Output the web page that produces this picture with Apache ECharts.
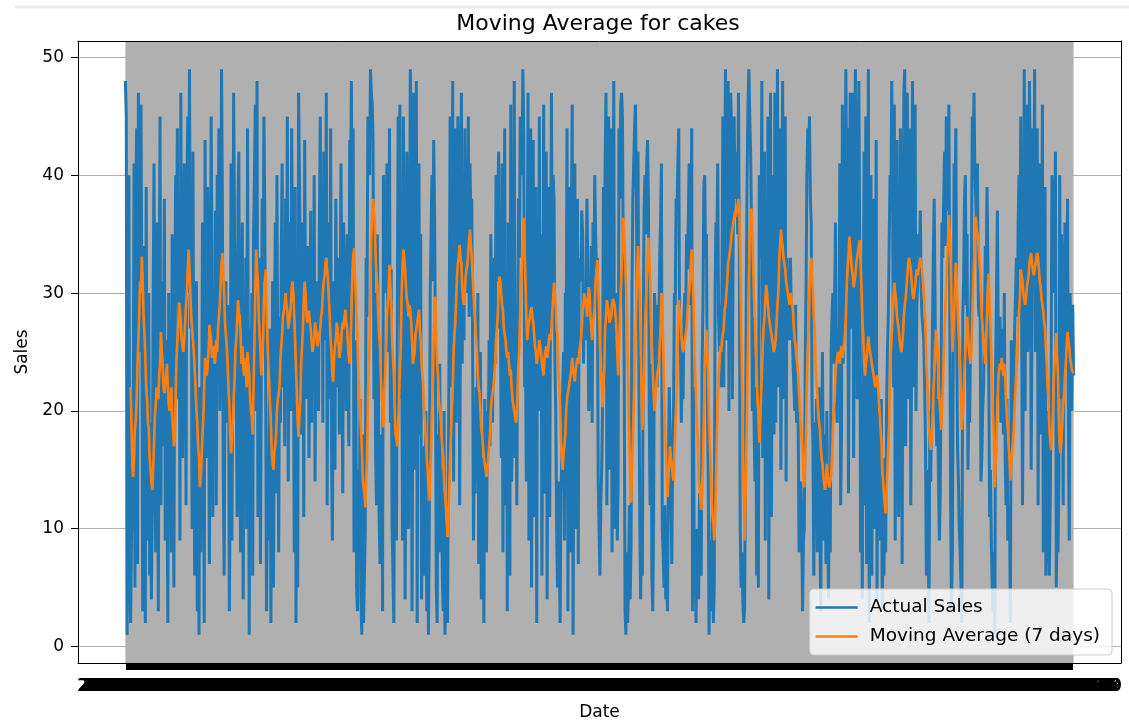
<!DOCTYPE html>
<html>
<head>
<meta charset="utf-8">
<script src="https://cdn.jsdelivr.net/npm/echarts@6/dist/echarts.min.js"></script>
<style>html,body{margin:0;padding:0;background:#fff;}#c{width:1129px;height:720px;}</style>
</head>
<body>
<div id="c"></div>
<script>
// Daily actual sales
const actualSales = [
48,45,1,33,40,6,2,9,12,20,41,5,38,44,7,
47,25,31,46,28,3,13,34,2,39,17,9,30,6,19,
4,11,29,41,16,8,36,22,3,27,45,12,31,17,24,
38,9,26,14,2,30,19,23,8,35,13,5,28,40,32,
44,21,36,9,47,25,16,33,41,29,12,38,45,30,49,
27,35,10,42,19,6,24,31,3,14,1,22,8,17,36,
30,2,43,25,16,39,28,7,21,45,33,11,26,18,37,
12,40,34,44,20,27,49,38,15,6,24,31,19,23,29,
3,13,41,9,26,47,35,30,22,11,38,42,17,8,28,
36,4,25,19,33,10,44,23,1,27,15,30,6,35,40,
46,20,48,11,29,33,7,24,38,31,45,36,22,3,14,
9,18,27,2,16,31,5,24,36,13,40,21,8,28,19,
33,41,22,30,17,38,26,45,14,29,36,20,44,31,25,
8,39,2,28,5,47,40,32,18,26,36,11,43,30,21,
29,34,16,25,37,19,33,22,40,14,27,31,24,20,35,
45,28,38,19,42,33,26,47,12,30,36,21,44,17,9,
24,31,15,38,27,22,33,18,29,41,25,13,36,30,28,
20,35,26,17,43,39,48,30,44,8,12,26,5,3,15,
9,21,4,1,18,2,6,10,33,28,45,44,40,49,47,
46,43,21,30,16,12,35,25,11,7,14,18,3,40,30,
33,36,41,25,28,44,19,32,10,6,2,21,14,9,28,
45,40,46,21,31,9,45,33,4,18,42,34,10,27,49,
44,3,26,47,15,27,48,2,29,41,18,35,4,11,17,
6,13,20,3,9,1,11,30,35,40,31,43,37,26,5,
2,18,12,24,8,15,6,3,20,1,4,10,2,16,28,
45,22,36,48,14,27,44,19,35,45,41,12,28,47,24,
40,26,44,33,37,30,45,28,41,36,38,25,9,18,13,
22,14,30,7,19,25,4,16,13,2,21,11,8,20,18,
26,17,35,28,19,29,33,24,40,31,37,42,27,29,16,
41,8,25,44,12,31,3,36,27,6,46,14,19,23,48,
16,29,12,27,38,33,45,41,40,49,43,22,26,14,30,
47,9,31,44,5,24,43,11,27,39,2,36,21,45,20,
35,6,23,46,13,21,42,4,24,39,11,31,47,30,40,
38,24,20,10,5,14,8,2,13,16,22,25,9,30,26,
44,3,24,39,8,35,46,1,22,41,10,24,38,7,33,
33,31,37,35,24,29,26,31,38,32,20,23,26,34,19,
36,30,40,35,32,33,14,10,6,12,15,20,39,26,41,
47,12,24,45,15,31,44,8,29,48,10,21,30,9,14,
44,38,46,47,45,32,24,3,1,8,2,5,12,4,9,
30,38,41,44,46,39,28,42,23,11,4,10,6,26,37,
40,35,41,43,38,19,12,24,6,3,11,30,28,25,22,
29,27,33,36,41,10,8,5,12,4,6,3,14,22,18,
13,7,16,20,30,29,38,37,41,44,26,25,19,23,21,
28,30,27,35,32,36,41,38,29,44,3,22,5,9,2,
10,7,4,13,8,6,24,29,39,40,33,35,21,15,1,
9,3,8,12,2,5,30,36,34,41,28,25,29,22,31,
45,22,38,49,26,35,48,20,39,47,44,21,37,45,38,
42,40,35,47,33,10,5,8,4,2,3,14,30,40,46,
49,45,42,36,20,28,19,14,22,6,10,5,40,37,33,
48,16,30,42,9,38,24,45,4,29,47,11,26,40,18,
47,19,34,49,22,42,44,15,33,48,21,28,45,14,33,
29,31,26,33,28,27,24,22,20,29,19,23,18,8,12,
14,11,3,9,10,24,30,40,44,41,45,38,36,20,17,
6,19,12,21,8,14,22,10,3,16,25,13,9,18,7,
20,11,4,15,8,25,28,30,24,29,36,21,19,27,22,
41,12,18,46,24,28,35,49,38,44,13,31,47,27,32,
47,16,33,49,38,21,36,48,34,8,20,4,23,42,12,
45,7,31,49,2,22,40,6,26,38,10,18,43,4,20,
14,17,9,21,3,10,6,16,8,20,25,28,34,40,37,
48,38,22,46,9,22,43,30,11,21,44,28,7,32,47,
49,17,36,47,21,37,44,12,26,48,22,34,46,20,29,
31,35,33,37,30,28,27,26,22,17,6,15,11,2,20,
14,20,27,33,38,30,20,17,21,14,9,13,23,36,33,
38,42,34,45,40,37,46,29,12,3,8,24,41,36,44,
26,17,14,10,8,5,2,28,31,38,40,29,35,15,21,
19,27,32,45,42,47,40,38,35,41,29,28,30,14,16,
20,22,27,34,31,39,33,24,11,15,9,5,3,8,1,
24,30,37,26,22,28,19,27,25,18,30,16,12,21,9,
10,12,2,26,20,18,24,27,30,33,28,36,40,32,45,
45,12,24,49,20,37,46,25,30,48,40,15,27,44,34,
49,25,36,44,12,27,41,18,28,46,8,30,39,6,9,
15,20,6,12,22,40,38,35,30,42,5,11,8,14,40,
21,35,30,12,28,36,27,25,38,18,9,30,24,20,29,23
];

// 7-day moving average
const movingAverage = [
null,null,null,null,null,null,22,19,15.5,14.4,16,18.5,19.2,21,24,
26,28.5,31,30,33.1,31,28,26.5,24.5,22,21,19,18.5,16,15,
14,13.3,15,17,19.5,20.5,22,21.5,21,23,24,26.7,25,24,22,
21.5,22.5,23,24,22,20.5,20,21,22,19.5,18.5,17,17.5,21,24.5,
26,27,29.2,28.5,27.5,26,25.5,25,26,27.5,29,30,32,33.7,32,
30,28,27,26,25,23.5,22,20,19,17,16,13.5,14.5,16,18,
19.5,22,24.5,23.5,23,24,25,27.3,26.5,26,24.5,25,25.5,24,24.5,
26,25,27,28,29,31,32.5,33.4,31.5,30,27.5,26.5,25.5,24,22,
20.5,18,16.4,17.5,19,21,22.5,25,26,27.5,29.4,28.5,28,26.5,24,
25.5,24,23,24.5,23.5,22,25,24,23,21,20,19.5,18,22,26,
30,33.7,32,31,28,26.5,25,23,24.5,26,29.5,31,32,29,26,
24,22.5,20.5,19,16.5,15.5,15,16.5,17,18,20,21,21.5,22,24.5,
25.5,26.5,28,28.5,29,30,29,28.5,27,27.5,28,29,30.5,31,30,
28,26,23.5,21.5,19,17.8,19.5,21,24,25.5,27,29.5,31,30,28,
27.5,28,28.5,27.5,27,26,25,25.5,26,27.5,27,26.5,25.5,26,26.5,
27,28,28.5,30,31,31.5,32.5,33,32,31,29.5,28,26,25,23,
22.5,24.5,25.5,26,27.5,27,26,24.5,25,25.5,27,27.5,27,28,28.6,
27.5,27,25.5,24.5,24,26,28,31.5,33,33.8,31.5,30,28,26.5,23,
21.5,20,18.5,17,14.5,13.5,13,11.8,14,16,21,24,26,31,35,
37,38,37,36,33,31.5,30.5,28,26.5,25.5,23,21,20.5,18.6,21.5,
23,25,28,29,30.5,32.4,30.5,29,26,24.5,23,20,18,17.5,17,
19,21,23.5,25.5,30,32,33.7,33,32,30.5,29.5,29,28,29,28.6,
27.5,26,24,24.5,25,26.5,27,27.5,28,28.6,27,26,24,23,22,
20,19,17.5,16,15,13.5,12.4,14.5,17,20,22,26.5,28,29.7,26,
24,23,21,20,19.5,18,17,16,14,13,12,10.5,9.3,11,13.5,
16,18,20,22,25,26.5,27.5,29.5,31.5,32.5,33,34.1,33,32.5,30.5,
29.5,29,30,31.5,32,32.5,33.5,34.5,35.4,34,33,31.5,30,28.5,27.5,
26,25,23,22,21.5,20,18.5,18,17,16,15.5,15,14.4,15,16,
17,18,20,21,21.5,22,23,24,26,27,28,30,31.4,31,30,
29,28.5,27,26.5,26,25,24.5,25,24,23,23.5,22,21,20.5,20,
19.5,19,19.5,22,24,25.5,29,31,32.5,35,36.4,34,31,28,26,
27,27.5,28,28.5,28.8,28,27.5,26.5,25.5,25,24,24.5,25,26,25.5,
25,24,23.5,23,24.5,25,25.5,24.5,25,26,26.5,26,27,28.5,29.5,
30.9,30,29,27,26.5,23.5,22,20.5,17.5,16,15,16.5,17,18,20,
21,21.5,22,22,23,23.5,24.5,23.5,23,22.5,23.5,24,24.5,24,24,
25.5,26,27,28.5,29,30,29.5,29,28,29,30.5,30,28,27,26,
27.5,28,29,31,32,32.8,31,29,25.5,24,22.5,20.3,22,23.5,27,
28,29.4,29,28.5,27.5,27.5,28,29,29.5,29.5,29,28,27,25,23,
25,27.5,30,32,34,36.4,35,33,31,29,25,21,17.5,14.5,12.2,
15,17.5,20.5,23.5,26.5,29,31.5,34,32,30,26,22,18.4,20.5,22.5,
27,29,31,33,34.7,33,31,27.5,25.5,23.5,21.5,20,21,22,23,
23.5,24,25.5,27,30,28,26,21.5,19,17,14.5,12.7,14,15.5,17,
16,15.5,14.5,14.1,16,18.5,20.5,22.5,26.5,29.4,28.5,28,26.5,25.5,25,
25,26,26.5,27,28,29.5,30,31,32.5,33.7,31.5,29.5,25,23,21,
19,17.5,14.5,13.5,12.5,11.6,13.5,15.5,19.5,23.5,25,26.9,25,23,19,
17,15.5,12.5,11,10.5,9,10.5,14,17.5,21,22.5,24,25.5,25,26,
26.5,27,28.5,29,30,31,32.5,33,33.5,34.1,35,35.5,36,36.5,37,
36.5,37,37.5,38,37,33,28,23,18,13,9,12,16,21,26,
31,35,36.5,37.2,35,32,29.5,27.5,25,23,21,19.5,17.3,19,21,
23,25.5,27,28,29.5,30.7,30,29,28,27.5,27,26.5,26,25.5,25,
25,26,27.5,29,30,32.5,34,35.4,34.5,34,33,32.5,32,31,30.5,
30,29.5,29,30,29.7,29,28.5,27,26,25.5,24.5,24,23,21.5,20,
19,17.5,16.5,14.5,13.5,15.5,18,22.5,25,27,30.5,32,33,31.5,30,
28,27,24,22.5,21.5,20,19,18.5,17,16,15.5,14.5,13.8,13.3,14,
15.5,14.5,14,13.5,13.5,14.5,16,18.5,20,21,23,24,24.5,25,24.5,
24,25,25.5,24.5,25,25,26.5,28,30.5,32,33,34.8,34,33,32,
31.5,30.5,31,31.5,32.5,33,33.5,34,34.5,32.5,30.5,28,26.5,24.5,23,
24,24.5,25.5,26.3,25.5,25,24.5,24,23.5,23,22.5,22,22.5,23,22.5,
21,20,18.5,17.5,15,14,13,12,11.3,13,15,17,19,22.5,25,
26.5,28,29.5,30.9,30,29.5,28,27.5,27,26,25.5,25,25.5,26.5,28,
29,29.5,30.5,31.5,32.5,33,32.5,32,31,30,29.5,30,30.5,31.5,32,
31.5,32,32.5,33,32.5,32,31,30,28.5,27,24,22.5,21,18.5,17.5,
16.7,17.5,19,21.5,23,24.5,26.9,26,25,22.5,21,20,18.4,20,22,
24.5,26.5,29,31,33,34.5,36.6,35,33,29,25,26.5,28,30.5,32.6,
31,29,27,25.5,23.5,21.5,18.4,19.5,21,23.5,25,26,28,27,25.5,
24.5,24,25,28,30.5,32.5,34.5,36.5,35.5,35,34.3,33,32,30,28,
27,26,25,24,26,28,30,31.7,29,27,24.5,22,19.5,17.5,13.5,
15.5,17,20.5,22.5,23.5,24,23.5,24.5,23.5,23,24,23,21,19.5,18.5,
17,16,14.1,15.5,16.5,17.5,18.5,20.5,22,23.5,24.5,27,28.5,29.5,32,
31.5,31,30,29.5,29,29.5,30.5,31,31.5,32.5,33,33.4,32.5,32,31.5,
32,32.5,33,33.4,33,32,31,30.5,29.5,29,28.5,27.5,27,26.9,24,
22,21,18.5,17.5,16.7,18,19.5,22.5,24,25,26.6,24.5,23,19.5,17,
16.4,17.5,19,20.5,21.5,23,24,25.5,26.7,26,25.5,24.5,24,23.5,23.5,23.2
];

const startDate = '2020-01-01';
const yTicks = [0, 10, 20, 30, 40, 50];
const seriesNames = ['Actual Sales', 'Moving Average (7 days)'];

// Date labels, one per day
const N = actualSales.length;
const dates = [];
const t0 = Date.parse(startDate + 'T00:00:00Z');
for (let i = 0; i < N; i++) {
  dates.push(new Date(t0 + i * 86400000).toISOString().slice(0, 10));
}
const idx = dates.map((_, i) => i);
const pad = (N - 1) * 0.05;

const font = 'DejaVu Sans';
const chart = echarts.init(document.getElementById('c'), null, { renderer: 'canvas' });
chart.setOption({
  animation: false,
  backgroundColor: '#ffffff',
  graphic: [{
    type: 'line', silent: true, z: -1,
    shape: { x1: 15, y1: 7, x2: 1129, y2: 7 },
    style: { stroke: '#ececec', lineWidth: 3 }
  }],
  title: {
    text: 'Moving Average for cakes',
    left: 593, top: 8, textAlign: 'center',
    textStyle: { fontFamily: font, fontSize: 22, fontWeight: 'normal', color: '#000' }
  },
  grid: { left: 78, right: 8, top: 41, bottom: 57, containLabel: false, outerBoundsMode: 'none' },
  legend: {
    data: seriesNames,
    orient: 'vertical', right: 17, bottom: 65,
    icon: 'rect', itemWidth: 42, itemHeight: 2.5, itemGap: 10,
    backgroundColor: 'rgba(255,255,255,0.8)', borderColor: '#cccccc', borderWidth: 1, borderRadius: 4,
    padding: [9, 12, 9, 6],
    textStyle: { fontFamily: font, fontSize: 18.5, color: '#000', lineHeight: 18, padding: [0, 0, 0, 7] }
  },
  xAxis: [{
    type: 'value', min: -pad, max: (N - 1) + pad, z: 10,
    name: 'Date', nameLocation: 'middle', nameGap: 41,
    nameTextStyle: { fontFamily: font, fontSize: 17, color: '#000' },
    axisLine: { show: true, onZero: false, lineStyle: { color: '#000', width: 1 } },
    axisTick: { show: true, customValues: idx, length: 7, lineStyle: { color: '#000', width: 1 } },
    axisLabel: { show: true, customValues: idx, formatter: v => dates[v], fontFamily: font, fontSize: 17, color: '#000', margin: 15, hideOverlap: false },
    splitLine: { show: false }
  }, {
    type: 'value', position: 'top', min: 0, max: 1, z: 10,
    axisLine: { show: true, onZero: false, lineStyle: { color: '#000', width: 1 } },
    axisTick: { show: false }, axisLabel: { show: false }, splitLine: { show: false }
  }],
  yAxis: [{
    type: 'value', min: -1.4, max: 51.4,
    name: 'Sales', nameLocation: 'middle', nameGap: 46, nameRotate: 90,
    nameTextStyle: { fontFamily: font, fontSize: 17, color: '#000' },
    axisLine: { show: true, onZero: false, lineStyle: { color: '#000', width: 1 } },
    axisTick: { show: true, customValues: yTicks, length: 7, lineStyle: { color: '#000', width: 1 } },
    axisLabel: { show: true, customValues: yTicks, fontFamily: font, fontSize: 17, color: '#000', margin: 14 },
    splitLine: { show: true, lineStyle: { color: '#b0b0b0', width: 1 } }
  }, {
    type: 'value', position: 'right', min: 0, max: 1, z: 10,
    axisLine: { show: true, onZero: false, lineStyle: { color: '#000', width: 1 } },
    axisTick: { show: false }, axisLabel: { show: false }, splitLine: { show: false }
  }],
  series: [{
    name: seriesNames[0], type: 'line', xAxisIndex: 0, yAxisIndex: 0, z: 3,
    data: idx.map(i => [i, actualSales[i]]),
    showSymbol: false, symbol: 'none', silent: true,
    lineStyle: { color: '#1f77b4', width: 3 }, itemStyle: { color: '#1f77b4' },
    markArea: {
      silent: true,
      itemStyle: { color: '#b0b0b0' },
      data: [[{ xAxis: idx[0] }, { xAxis: idx[N - 1] }]]
    }
  }, {
    name: seriesNames[1], type: 'line', xAxisIndex: 0, yAxisIndex: 0, z: 4,
    data: idx.map(i => [i, movingAverage[i]]),
    showSymbol: false, symbol: 'none', silent: true, connectNulls: false,
    lineStyle: { color: '#ff7f0e', width: 2.6 }, itemStyle: { color: '#ff7f0e' }
  }]
});
</script>
</body>
</html>
